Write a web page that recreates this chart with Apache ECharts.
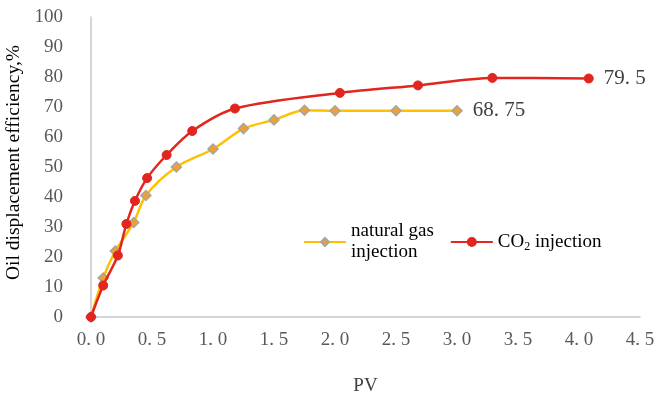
<!DOCTYPE html>
<html><head><meta charset="utf-8">
<script src="https://cdn.jsdelivr.net/npm/echarts@6/dist/echarts.min.js"></script>
<style>html,body{margin:0;padding:0;background:#fff}#c{width:656px;height:405px}</style>
</head><body><div id="c"></div>
<script>
const gasPV  = [0, 0.1, 0.2, 0.35, 0.45, 0.7, 1.0, 1.25, 1.5, 1.75, 2.0, 2.5, 3.0];
const gasEff = [0, 13, 22, 31.5, 40.5, 50, 56, 62.8, 65.7, 68.9, 68.75, 68.75, 68.75];
const co2PV  = [0, 0.1, 0.22, 0.29, 0.36, 0.46, 0.62, 0.83, 1.18, 2.04, 2.68, 3.29, 4.08];
const co2Eff = [0, 10.5, 20.5, 31, 38.7, 46.3, 54, 62, 69.5, 74.7, 77.2, 79.7, 79.5];
const seriesNames = ['natural gas\ninjection', 'CO2 injection'];
const xTitle = 'PV';
const yTitle = 'Oil displacement efficiency,%';

const FONT = 'Liberation Serif';
const pair = (xs, ys) => xs.map((x, i) => [x, ys[i]]);
const endLabel = (n) => ({
  show: true, position: 'right', distance: 10,
  formatter: p => p.dataIndex === n - 1 ? String(p.value[1]).replace('.', '. ') : '',
  color: '#404040', fontFamily: FONT, fontSize: 21
});

const chart = echarts.init(document.getElementById('c'), null, {renderer: 'canvas'});
chart.setOption({
  animation: false,
  backgroundColor: '#fff',
  grid: {left: 91, right: 16, top: 17, bottom: 88, containLabel: false, outerBoundsMode: 'none'},
  legend: {
    left: 303, top: 221, orient: 'horizontal', padding: 0,
    itemWidth: 42, itemHeight: 10, itemGap: 16,
    textStyle: {
      fontFamily: FONT, fontSize: 19, color: '#000', lineHeight: 21,
      rich: {sub: {fontFamily: FONT, fontSize: 12, verticalAlign: 'bottom', padding: [9, 0, 0, 0]}}
    },
    formatter: n => n === 'CO2 injection' ? 'CO{sub|2} injection' : n,
    data: seriesNames
  },
  xAxis: {
    type: 'value', min: 0, max: 4.5, interval: 0.5,
    name: xTitle, nameLocation: 'middle', nameGap: 60,
    nameTextStyle: {fontFamily: FONT, fontSize: 19, color: '#404040'},
    axisLine: {show: true, lineStyle: {color: '#c8c8c8', width: 1.5}},
    axisTick: {show: false},
    splitLine: {show: false},
    axisLabel: {fontFamily: FONT, fontSize: 19, color: '#595959', margin: 14,
      formatter: v => v.toFixed(1).replace('.', '. ')}
  },
  yAxis: {
    type: 'value', min: 0, max: 100, interval: 10,
    name: yTitle, nameLocation: 'middle', nameGap: 66, nameRotate: 90,
    nameTextStyle: {fontFamily: FONT, fontSize: 19.5, color: '#000', padding: [0, 0, 0, 9]},
    axisLine: {show: true, lineStyle: {color: '#c8c8c8', width: 1.5}},
    axisTick: {show: false},
    splitLine: {show: false},
    axisLabel: {fontFamily: FONT, fontSize: 19, color: '#595959', margin: 28}
  },
  series: [
    {
      name: seriesNames[0], type: 'line', smooth: 0.3,
      data: pair(gasPV, gasEff),
      symbol: 'diamond', symbolSize: 10,
      lineStyle: {color: '#FFC000', width: 2.5},
      itemStyle: {color: '#F0A030', borderColor: '#A5A5A5', borderWidth: 1.5},
      label: endLabel(gasPV.length),
      z: 2
    },
    {
      name: seriesNames[1], type: 'line', smooth: 0.3,
      data: pair(co2PV, co2Eff),
      symbol: 'circle', symbolSize: 9,
      lineStyle: {color: '#E0261F', width: 2.5},
      itemStyle: {color: '#E0261F', borderColor: '#E0261F', borderWidth: 1},
      label: endLabel(co2PV.length),
      z: 3
    }
  ]
});
</script></body></html>
